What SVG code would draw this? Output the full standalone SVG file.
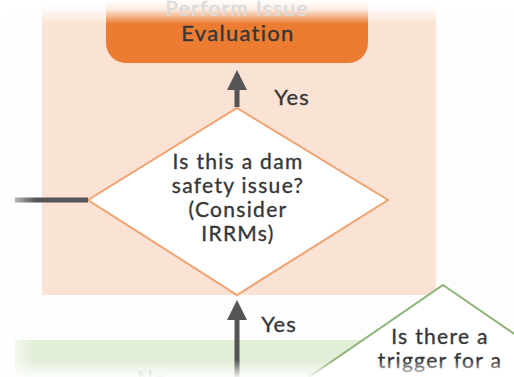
<svg xmlns="http://www.w3.org/2000/svg" width="514" height="377" viewBox="0 0 514 377">
<defs>
<style>
.t{font-family:Lato,"Open Sans","Liberation Sans",sans-serif;fill:#363636;stroke:#363636;stroke-width:0.35;text-anchor:middle;font-size:21px;letter-spacing:1.3px}
.conn{stroke:#555;stroke-width:5;fill:none}
</style>
<marker id="ah" markerWidth="4" markerHeight="4" refX="2" refY="2" orient="auto" markerUnits="strokeWidth" viewBox="0 0 4 4">
<path d="M0,0 L4,2 L0,4 Z" fill="#555"/>
</marker>
<linearGradient id="topfade" x1="0" y1="0" x2="0" y2="1">
<stop offset="0" stop-color="#fff" stop-opacity="1"/>
<stop offset="0.4" stop-color="#fff" stop-opacity="0.85"/>
<stop offset="1" stop-color="#fff" stop-opacity="0"/>
</linearGradient>
<linearGradient id="leftfade" x1="0" y1="0" x2="1" y2="0">
<stop offset="0" stop-color="#fff" stop-opacity="1"/>
<stop offset="1" stop-color="#fff" stop-opacity="0"/>
</linearGradient>
<linearGradient id="botfade" x1="0" y1="0" x2="0" y2="1">
<stop offset="0" stop-color="#fff" stop-opacity="0"/>
<stop offset="1" stop-color="#fff" stop-opacity="0.9"/>
</linearGradient>
</defs>
<rect width="514" height="377" fill="#fdfdfd"/>
<g id="band-orange"><rect x="42" y="0" width="394" height="295" fill="#fae3d5"/></g>
<g id="band-green"><rect x="15" y="340" width="400" height="37" fill="#e2eed8"/></g>
<g id="evaluation">
<path d="M106,-20 H368 V43 A20,20 0 0 1 348,63 H126 A20,20 0 0 1 106,43 Z" fill="#ec7c31"/>
<text class="t" x="238" y="41" style="font-size:22px">Evaluation</text>
</g>
<g id="decision">
<polygon points="237,108 388,200 237,295 88,200" fill="#fff" stroke="#f0a270" stroke-width="2"/>
<text class="t" x="238" y="169">Is this a dam</text>
<text class="t" x="238" y="193">safety issue?</text>
<text class="t" x="238" y="217">(Consider</text>
<text class="t" x="238" y="241">IRRMs)</text>
</g>
<g id="trigger">
<polygon points="443,285 590,386 443,487 296,386" fill="#fff" stroke="#8fb47a" stroke-width="2"/>
<text class="t" x="440" y="344">Is there a</text>
<text class="t" x="440" y="368">trigger for a</text>
</g>
<g id="connectors">
<line class="conn" x1="237" y1="107" x2="237" y2="80" marker-end="url(#ah)"/>
<line class="conn" x1="237" y1="377" x2="237" y2="310" marker-end="url(#ah)"/>
<line class="conn" x1="15" y1="200" x2="88" y2="200"/>
<text class="t" x="292" y="105" style="font-size:22px;letter-spacing:1px">Yes</text>
<text class="t" x="279" y="332" style="font-size:22px;letter-spacing:1px">Yes</text>
<text class="t" x="152" y="386" fill-opacity="0.3" stroke-opacity="0.3">No</text>
</g>
<rect x="0" y="0" width="514" height="24" fill="url(#topfade)"/>
<text class="t" x="237" y="16" style="fill:#dadada;stroke:#dadada">Perform Issue</text>
<rect x="0" y="0" width="35" height="377" fill="url(#leftfade)"/>
<rect x="0" y="360" width="514" height="17" fill="url(#botfade)"/>
</svg>
